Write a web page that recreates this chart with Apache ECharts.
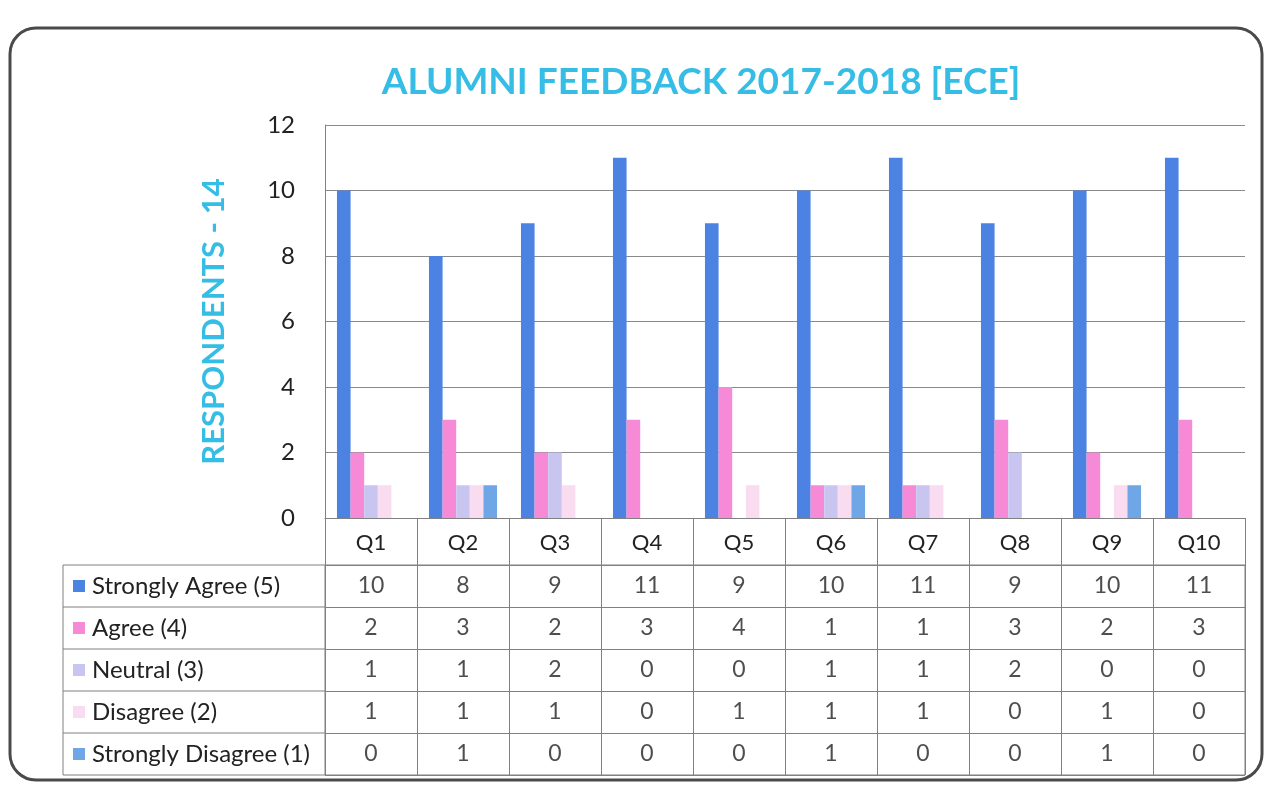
<!DOCTYPE html>
<html>
<head>
<meta charset="utf-8">
<script src="https://cdn.jsdelivr.net/npm/echarts@6/dist/echarts.min.js"></script>
<style>
html, body { margin: 0; padding: 0; background: #fff; }
#chart { width: 1281px; height: 789px; }
</style>
</head>
<body>
<div id="chart"></div>
<script>
const questions = ["Q1", "Q2", "Q3", "Q4", "Q5", "Q6", "Q7", "Q8", "Q9", "Q10"];
const seriesNames = ["Strongly Agree (5)", "Agree (4)", "Neutral (3)", "Disagree (2)", "Strongly Disagree (1)"];
const stronglyAgree = [10, 8, 9, 11, 9, 10, 11, 9, 10, 11];
const agree = [2, 3, 2, 3, 4, 1, 1, 3, 2, 3];
const neutral = [1, 1, 2, 0, 0, 1, 1, 2, 0, 0];
const disagree = [1, 1, 1, 0, 1, 1, 1, 0, 1, 0];
const stronglyDisagree = [0, 1, 0, 0, 0, 1, 0, 0, 1, 0];
const yMin = 0, yMax = 12, yStep = 2;

const allValues = [stronglyAgree, agree, neutral, disagree, stronglyDisagree];
const colors = ["#4C82E2", "#F78AD6", "#C8C6F0", "#FADCF0", "#6EA6E6"];
const font = "Lato, 'Open Sans', sans-serif";
const cyan = "#35BDE6";
const lineColor = "#808080";

// layout
const plotLeft = 325, plotRight = 1245, plotTop = 125, plotBottom = 518;
const headerH = 47, rowH = 42, tableLeft = 63;
const bodyTop = plotBottom + headerH;
const bodyBottom = bodyTop + rowH * seriesNames.length;

let myChart = echarts.init(document.getElementById("chart"));

let rich = { t: { fontSize: 24, color: "#222", fontFamily: font, padding: [0, 0, 0, 7] } };
colors.forEach((c, i) => {
  rich["m" + i] = { backgroundColor: c, width: 12, height: 12 };
});

let series = seriesNames.map((name, i) => ({
  name: name,
  type: "bar",
  xAxisIndex: 0,
  yAxisIndex: 0,
  data: allValues[i],
  barGap: "0%",
  barCategoryGap: "26%",
  itemStyle: { color: colors[i] }
}));

// table values drawn as labels on the table grid
let cells = [];
allValues.forEach((vals, si) => {
  vals.forEach((v, qi) => cells.push([qi, si, v]));
});
series.push({
  type: "scatter",
  xAxisIndex: 1,
  yAxisIndex: 1,
  symbolSize: 0,
  silent: true,
  data: cells,
  label: {
    show: true,
    position: "inside",
    formatter: p => String(p.value[2]),
    fontSize: 23,
    color: "#222",
    fontFamily: font
  }
});

let graphics = [
  {
    type: "rect",
    shape: { x: 10, y: 28, width: 1252, height: 752, r: 26 },
    style: { fill: null, stroke: "#4a4a4a", lineWidth: 3 }
  },
  {
    type: "text",
    x: 701,
    y: 64,
    style: {
      text: "ALUMNI FEEDBACK 2017-2018 [ECE]",
      fill: cyan,
      fontSize: 37,
      fontWeight: "bold",
      fontFamily: font,
      textAlign: "center"
    }
  },
  {
    type: "line",
    shape: { x1: tableLeft, y1: bodyTop, x2: tableLeft, y2: bodyBottom },
    style: { stroke: lineColor, lineWidth: 1 }
  }
];
// left column borders of the table
for (let r = 0; r <= seriesNames.length; r++) {
  let y = bodyTop + r * rowH;
  graphics.push({
    type: "line",
    shape: { x1: tableLeft, y1: y, x2: plotLeft, y2: y },
    style: { stroke: lineColor, lineWidth: 1 }
  });
}

let option = {
  backgroundColor: "#fff",
  animation: false,
  textStyle: { fontFamily: font },
  grid: [
    {
      left: plotLeft,
      width: plotRight - plotLeft,
      top: plotTop,
      height: plotBottom - plotTop
    },
    {
      left: plotLeft,
      width: plotRight - plotLeft,
      top: bodyTop,
      height: bodyBottom - bodyTop,
      show: true,
      borderColor: lineColor,
      borderWidth: 1
    }
  ],
  xAxis: [
    {
      type: "category",
      gridIndex: 0,
      data: questions,
      axisLine: { lineStyle: { color: lineColor, width: 1 } },
      axisTick: { show: true, length: headerH, lineStyle: { color: lineColor } },
      axisLabel: { fontSize: 22, color: "#222", margin: 14, fontFamily: font }
    },
    {
      type: "category",
      gridIndex: 1,
      data: questions,
      axisLine: { show: false },
      axisTick: { show: false },
      axisLabel: { show: false },
      splitLine: { show: true, lineStyle: { color: lineColor, width: 1 } }
    }
  ],
  yAxis: [
    {
      type: "value",
      gridIndex: 0,
      min: yMin,
      max: yMax,
      interval: yStep,
      name: "RESPONDENTS - 14",
      nameLocation: "middle",
      nameGap: 96,
      nameRotate: 90,
      nameTextStyle: { color: cyan, fontSize: 31, fontWeight: "bold", fontFamily: font },
      axisLine: { show: true, lineStyle: { color: lineColor, width: 1 } },
      axisTick: { show: false },
      axisLabel: { fontSize: 24, color: "#222", margin: 30, fontFamily: font },
      splitLine: { show: true, lineStyle: { color: "#8a8a8a", width: 1 } }
    },
    {
      type: "category",
      gridIndex: 1,
      inverse: true,
      data: seriesNames,
      axisLine: { show: false },
      axisTick: { show: false },
      splitLine: { show: true, lineStyle: { color: lineColor, width: 1 } },
      axisLabel: {
        align: "left",
        margin: plotLeft - tableLeft - 10,
        formatter: (v, i) => "{m" + i + "| }{t|" + v + "}",
        rich: rich
      }
    }
  ],
  graphic: graphics,
  series: series
};
myChart.setOption(option);
</script>
</body>
</html>
